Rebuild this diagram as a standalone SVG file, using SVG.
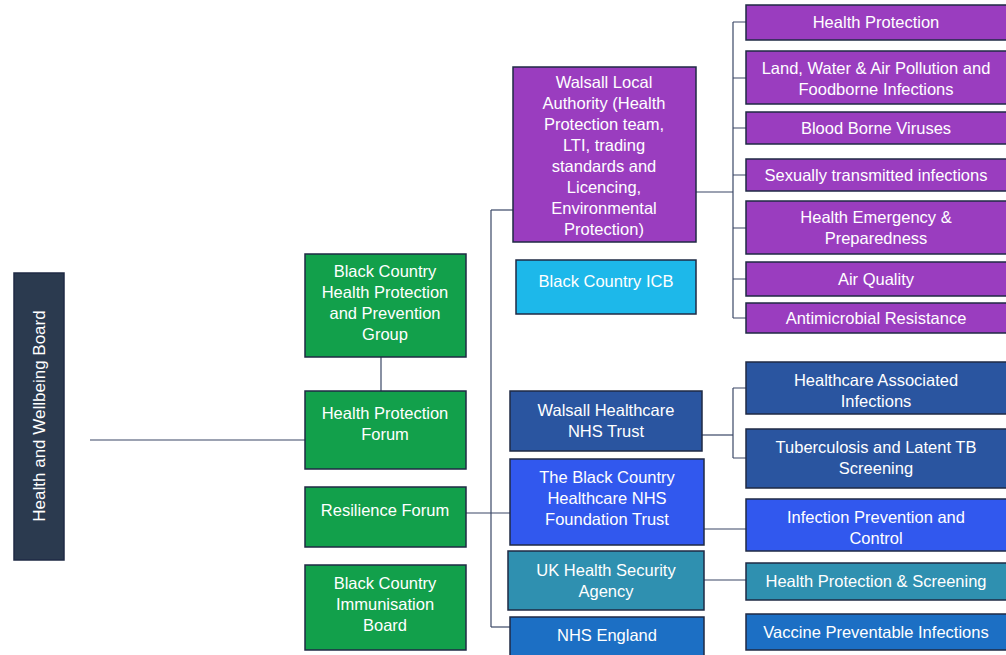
<svg xmlns="http://www.w3.org/2000/svg" width="1006" height="655" viewBox="0 0 1006 655">
<style>
.b{stroke:#1f2a44;stroke-width:1.5}
.t{font-family:"Liberation Sans",Arial,sans-serif;font-size:16.5px;fill:#fff;text-anchor:middle}
.c{stroke:#3a4766;stroke-width:1.2;fill:none}
.g{fill:#12a04b}
.p{fill:#9a3dbf}
.n{fill:#2a55a0}
.bb{fill:#3158ee}
.tl{fill:#2f90b0}
.ne{fill:#1c6fc4}
</style>
<rect width="1006" height="655" fill="#fff"/>
<g id="connectors">
<path class="c" d="M90 440H305"/>
<path class="c" d="M381 357V391"/>
<path class="c" d="M466 513H510"/>
<path class="c" d="M491 210V627"/>
<path class="c" d="M491 210H513"/>
<path class="c" d="M491 627H510"/>
<path class="c" d="M696 192H733"/>
<path class="c" d="M733 22V318"/>
<path class="c" d="M733 22H746M733 78H746M733 128H746M733 175H746M733 228H746M733 279H746M733 318H746"/>
<path class="c" d="M702 435H733"/>
<path class="c" d="M733 388V458"/>
<path class="c" d="M733 388H746M733 458H746"/>
<path class="c" d="M704 529H746"/>
<path class="c" d="M704 580H746"/>
</g>
<g id="hwb"><rect class="b" x="14" y="273" width="50" height="287" fill="#2b3a4f"/><text class="t" style="font-size:17px" transform="translate(45 416) rotate(-90)">Health and Wellbeing Board</text></g>
<g id="bchppg"><rect class="b g" x="305" y="254" width="161" height="103"/><text class="t"><tspan x="385" y="277">Black Country</tspan><tspan x="385" y="298">Health Protection</tspan><tspan x="385" y="319">and Prevention</tspan><tspan x="385" y="340">Group</tspan></text></g>
<g id="hpf"><rect class="b g" x="305" y="391" width="161" height="78"/><text class="t"><tspan x="385" y="419">Health Protection</tspan><tspan x="385" y="440">Forum</tspan></text></g>
<g id="rf"><rect class="b g" x="305" y="487" width="161" height="60"/><text class="t"><tspan x="385" y="516">Resilience Forum</tspan></text></g>
<g id="bcib"><rect class="b g" x="305" y="565" width="161" height="85"/><text class="t"><tspan x="385" y="589">Black Country</tspan><tspan x="385" y="610">Immunisation</tspan><tspan x="385" y="631">Board</tspan></text></g>
<g id="wla"><rect class="b p" x="513" y="67" width="183" height="175"/><text class="t"><tspan x="604" y="88">Walsall Local</tspan><tspan x="604" y="109">Authority (Health</tspan><tspan x="604" y="130">Protection team,</tspan><tspan x="604" y="151">LTI, trading</tspan><tspan x="604" y="172">standards and</tspan><tspan x="604" y="193">Licencing,</tspan><tspan x="604" y="214">Environmental</tspan><tspan x="604" y="235">Protection)</tspan></text></g>
<g id="icb"><rect class="b" x="516" y="260" width="180" height="54" fill="#1db8ea"/><text class="t"><tspan x="606" y="287">Black Country ICB</tspan></text></g>
<g id="wht"><rect class="b n" x="510" y="391" width="192" height="60"/><text class="t"><tspan x="606" y="416">Walsall Healthcare</tspan><tspan x="606" y="437">NHS Trust</tspan></text></g>
<g id="bchft"><rect class="b bb" x="510" y="459" width="194" height="86"/><text class="t"><tspan x="607" y="483">The Black Country</tspan><tspan x="607" y="504">Healthcare NHS</tspan><tspan x="607" y="525">Foundation Trust</tspan></text></g>
<g id="ukhsa"><rect class="b tl" x="508" y="551" width="196" height="59"/><text class="t"><tspan x="606" y="576">UK Health Security</tspan><tspan x="606" y="597">Agency</tspan></text></g>
<g id="nhse"><rect class="b ne" x="510" y="617" width="194" height="40"/><text class="t"><tspan x="607" y="641">NHS England</tspan></text></g>
<g id="r1"><rect class="b p" x="746" y="5" width="262" height="35"/><text class="t"><tspan x="876" y="28">Health Protection</tspan></text></g>
<g id="r2"><rect class="b p" x="746" y="51" width="262" height="53"/><text class="t"><tspan x="876" y="74">Land, Water &amp; Air Pollution and</tspan><tspan x="876" y="95">Foodborne Infections</tspan></text></g>
<g id="r3"><rect class="b p" x="746" y="112" width="262" height="32"/><text class="t"><tspan x="876" y="134">Blood Borne Viruses</tspan></text></g>
<g id="r4"><rect class="b p" x="746" y="159" width="262" height="32"/><text class="t"><tspan x="876" y="181">Sexually transmitted infections</tspan></text></g>
<g id="r5"><rect class="b p" x="746" y="201" width="262" height="53"/><text class="t"><tspan x="876" y="223">Health Emergency &amp;</tspan><tspan x="876" y="244">Preparedness</tspan></text></g>
<g id="r6"><rect class="b p" x="746" y="262" width="262" height="34"/><text class="t"><tspan x="876" y="285">Air Quality</tspan></text></g>
<g id="r7"><rect class="b p" x="746" y="303" width="262" height="30"/><text class="t"><tspan x="876" y="324">Antimicrobial Resistance</tspan></text></g>
<g id="r8"><rect class="b n" x="746" y="362" width="262" height="52"/><text class="t"><tspan x="876" y="386">Healthcare Associated</tspan><tspan x="876" y="407">Infections</tspan></text></g>
<g id="r9"><rect class="b n" x="746" y="429" width="262" height="59"/><text class="t"><tspan x="876" y="453">Tuberculosis and Latent TB</tspan><tspan x="876" y="474">Screening</tspan></text></g>
<g id="r10"><rect class="b bb" x="746" y="499" width="262" height="52"/><text class="t"><tspan x="876" y="523">Infection Prevention and</tspan><tspan x="876" y="544">Control</tspan></text></g>
<g id="r11"><rect class="b tl" x="746" y="563" width="262" height="37"/><text class="t"><tspan x="876" y="587">Health Protection &amp; Screening</tspan></text></g>
<g id="r12"><rect class="b ne" x="746" y="614" width="262" height="36"/><text class="t"><tspan x="876" y="638">Vaccine Preventable Infections</tspan></text></g>
</svg>
